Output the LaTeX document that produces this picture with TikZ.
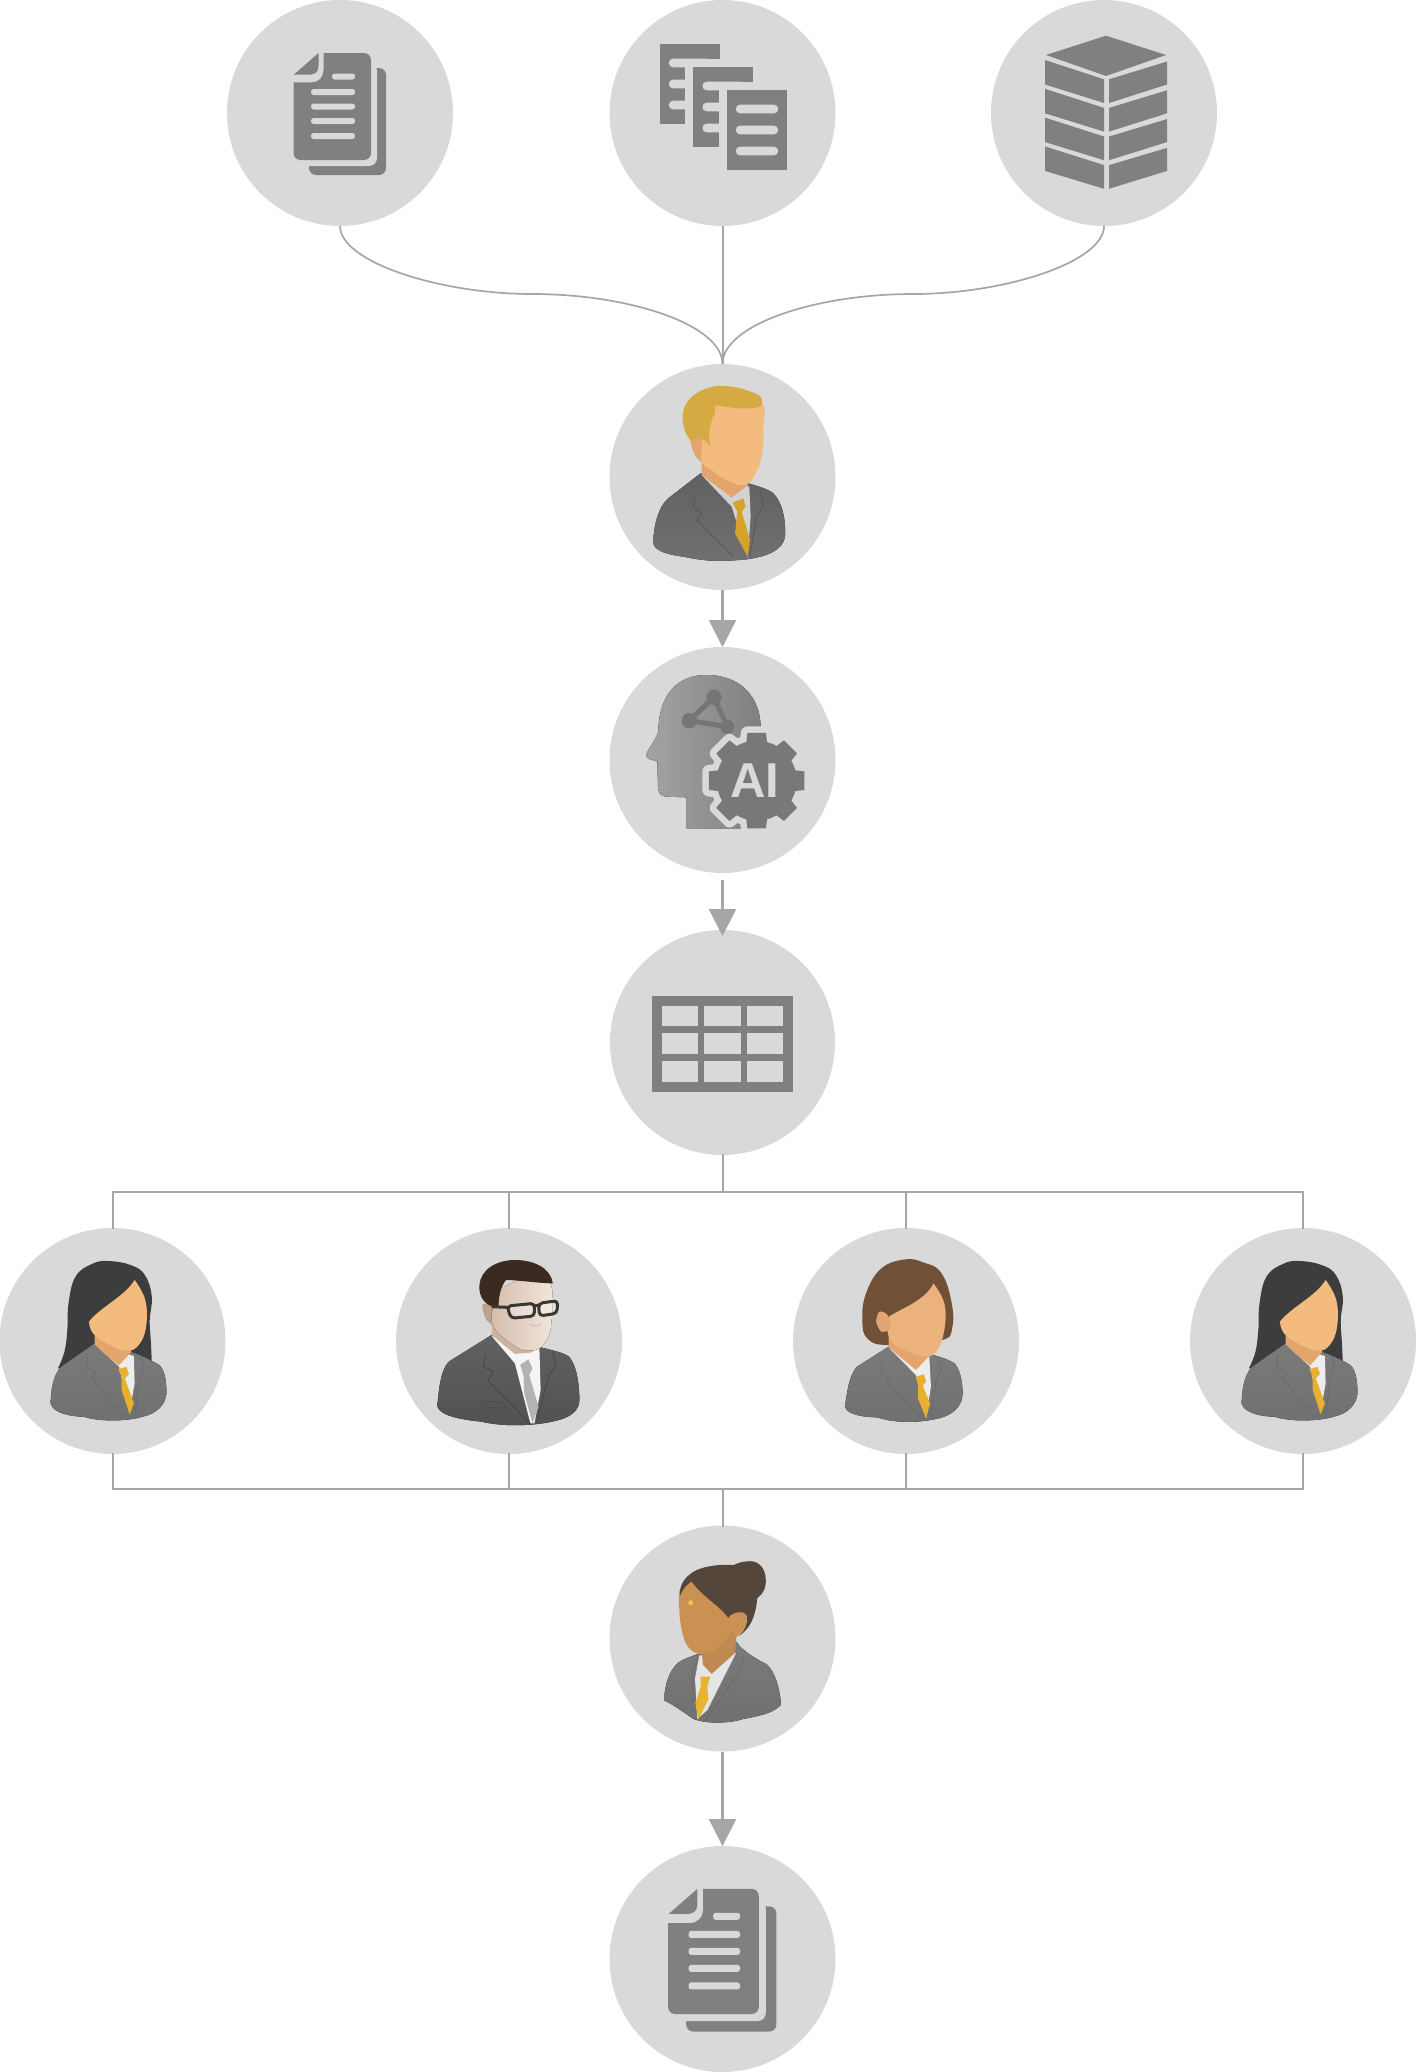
\documentclass[tikz,border=0pt]{standalone}
\usepackage{fontspec}
\setmainfont{Liberation Sans}
\usetikzlibrary{arrows.meta}
\definecolor{disc}{HTML}{D9D9D9}
\definecolor{iconc}{HTML}{808080}
\definecolor{linec}{HTML}{A6A6A6}
\definecolor{skinA}{HTML}{F3BC7E}
\definecolor{skinB}{HTML}{E3A56B}
\definecolor{tieA}{HTML}{E8B030}
\definecolor{rimc}{RGB}{58,55,50}
\tikzset{
  nd/.style={circle,fill=disc,draw=none,minimum size=226pt,inner sep=0pt,outer sep=0pt},
  thinline/.style={draw=linec,line width=1.7pt},
  flow/.style={draw=linec,line width=2.4pt,-{Triangle[length=27pt,width=27pt,fill=linec]}},
  bus/.style={draw=linec,line width=2pt,line cap=rect},
  iconf/.style={fill=iconc},
  lightf/.style={fill=disc},
  lapel/.style={draw=black!60,line width=.5pt,line join=round}
}
% document icon
\newcommand\docIcon[2]{\begin{scope}[shift={(#1.center)},scale=#2]
  \fill[iconf,rounded corners=7pt] (-31,-45) rectangle (46,62);
  \fill[lightf,rounded corners=8pt] (-46,-50) rectangle (37,53);
  \fill[iconf] (-16.5,-60) [rounded corners=7pt] -- (31,-60) -- (31,47) -- (-46.5,47) [sharp corners] -- (-46.5,-30.7) -- (-28,-30.7) .. controls (-21,-30.7) and (-16.5,-36) .. (-16.5,-43) -- cycle;
  \fill[iconf] (-46,-38.5) -- (-21.5,-60) -- (-21.5,-47) .. controls (-21.5,-41) and (-25,-38.5) .. (-30,-38.5) -- cycle;
  \fill[lightf,rounded corners=2.6pt] (-8,-39.5) rectangle (15,-33.5);
  \foreach \yy in {-21,-6.5,8,23} {\fill[lightf,rounded corners=2.6pt] (-29,\yy-3) rectangle (15,\yy+3);}
\end{scope}}
% one small text sheet
\newcommand\sheetIcon[2]{%
  \fill[iconf] (#1,#2) rectangle (#1+60,#2+80);
  \foreach \yy in {19,40,61} {\fill[lightf,rounded corners=4pt] (#1+9.4,#2+\yy-4.3) rectangle (#1+51.6,#2+\yy+4.3);}
}
% woman with long dark hair, in the coordinates of the zoomed crop
\newcommand\womanDark[1]{\begin{scope}[shift={(#1,1220)},x=.408pt,y=-.3333pt]
  \fill[fill=black!76] plot[smooth,tension=.7] coordinates {(142,445) (158,395) (165,330) (168,250) (185,170) (225,132) (265,123) (320,135) (355,165) (372,230) (367,300) (370,370) (372,425)} -- cycle;
  \fill[top color=black!52,bottom color=black!56] (232,370) -- (150,440) .. controls (130,465) and (125,510) .. (124,550) .. controls (130,580) and (175,590) .. (205,590) .. controls (240,605) and (310,605) .. (350,590) .. controls (385,580) and (405,555) .. (408,520) .. controls (408,490) and (405,450) .. (390,435) .. controls (370,420) and (345,405) .. (320,395) -- cycle;
  \fill[fill=white!93!black] (232,372) -- (292,440) -- (317,580) -- (330,490) -- (328,408) -- cycle;
  \fill[fill=skinB] (232,345) -- (232,372) -- (255,400) -- (292,436) -- (322,395) -- (315,370) -- cycle;
  \fill[fill=skinA] plot[smooth,tension=.7] coordinates {(330,180) (356,240) (358,320) (340,375) (310,392) (265,372) (228,340) (218,305)} .. controls (245,262) and (305,230) .. (330,180) -- cycle;
  \fill[fill=tieA] (290,447) -- (310,441) -- (316,462) -- (306,475) -- (328,550) -- (318,583) -- (298,510) -- (298,470) -- cycle;
  \draw[lapel] (213,400) -- (212,445) -- (235,455) -- (225,475) -- (300,590);
  \draw[lapel] (345,405) -- (352,440) -- (342,470) -- (330,590);
\end{scope}}
\begin{document}
\begin{tikzpicture}[x=1pt,y=-1pt]
\useasboundingbox (0,0) rectangle (1416,2072);
\fill[white] (0,0) rectangle (1416,2072);
% discs
\node[nd] (s1) at (340,113) {};
\node[nd] (s2) at (722.5,113) {};
\node[nd] (s3) at (1104,113) {};
\node[nd] (mgr) at (722.5,477) {};
\node[nd] (ai) at (722.5,760) {};
\node[nd,minimum size=225pt] (tbl) at (722.5,1042.5) {};
\node[nd] (r1) at (112.5,1341) {};
\node[nd] (r2) at (509,1341) {};
\node[nd] (r3) at (906,1341) {};
\node[nd] (r4) at (1303,1341) {};
\node[nd] (rev) at (722.5,1638.5) {};
\node[nd] (out) at (722.5,1959) {};
\coordinate (jl) at (532,294);
\coordinate (jr) at (913,294);
\coordinate (bt) at (722.5,1191.5);
\coordinate (bb) at (722.5,1489);
% connectors
\draw[thinline] (s1.south) .. controls (340,262) and (440,294) .. (jl) .. controls (630,294) and (722.5,325) .. (mgr.north);
\draw[thinline] (s3.south) .. controls (1104,262) and (1005,294) .. (jr) .. controls (815,294) and (722.5,325) .. (mgr.north);
\draw[bus,line cap=butt] (s2.south) -- (mgr.north);
\draw[flow] (mgr.south) -- (ai.north);
\draw[flow,shorten <=7pt,shorten >=-6pt] (ai.south) -- (tbl.north);
\draw[flow] (rev.south) -- (out.north);
\draw[bus] (tbl.south) -- (bt);
\draw[bus] (r1.north) |- (bt);
\draw[bus] (r4.north) |- (bt);
\draw[bus] (r2.north) |- (bt);
\draw[bus] (r3.north) |- (bt);
\draw[bus] (r1.south) |- (bb);
\draw[bus] (r4.south) |- (bb);
\draw[bus] (r2.south) |- (bb);
\draw[bus] (r3.south) |- (bb);
\draw[bus] (bb) -- (rev.north);
% document icons
\docIcon{s1}{1}
\docIcon{out}{1.17}
% three sheets
\begin{scope}[shift={(s2.center)}]
  \sheetIcon{-63}{-69}
  \fill[lightf] (-37.4,-54) rectangle (38.6,42);
  \sheetIcon{-29.4}{-46}
  \fill[lightf] (-4,-31) rectangle (72,65);
  \sheetIcon{4}{-23}
\end{scope}
% stack
\begin{scope}[shift={(s3.center)}]
  \fill[iconf] (2,-77.3) -- (62,-58) -- (2,-37) -- (-58,-58) -- cycle;
  \foreach \k in {0,1,2,3} {
    \fill[iconf] (-59,-53+28.8*\k) -- (0,-33.7+28.6*\k) -- (0,-10+28.6*\k) -- (-59,-28.5+28.8*\k) -- cycle;
    \fill[iconf] (63,-51.5+28.8*\k) -- (5,-33.7+28.6*\k) -- (5,-10+28.6*\k) -- (63,-28.5+28.8*\k) -- cycle;
  }
\end{scope}
% table
\fill[iconf] (651.7,995.7) rectangle (793.3,1092.3);
\foreach \cl/\cr in {661.7/697.7,704.3/740.7,747.3/783} {
  \foreach \rt/\rb in {1005.7/1026.3,1033.3/1054.3,1061.3/1082} {
    \fill[lightf] (\cl,\rt) rectangle (\cr,\rb);
  }
}
% manager
\begin{scope}[shift={(600,360)},x=.3333pt,y=-.3333pt]
  \fill[top color=black!62,bottom color=black!56] (302,340) -- (205,415) .. controls (175,440) and (160,500) .. (160,550) .. controls (165,575) and (210,585) .. (250,590) .. controls (300,600) and (340,608) .. (440,598) .. controls (500,590) and (550,570) .. (555,530) .. controls (558,490) and (550,430) .. (520,400) .. controls (500,385) and (470,378) .. (445,370) -- cycle;
  \fill[fill=disc!97!black] (305,345) -- (395,440) -- (443,590) -- (452,470) -- (448,380) -- cycle;
  \fill[fill=skinB] (305,290) -- (305,345) -- (395,412) -- (445,375) -- (440,330) -- cycle;
  \fill[fill=skinB] plot[smooth cycle] coordinates {(272,240) (305,225) (330,290) (305,305) (285,285)};
  \fill[fill=skinA] plot[smooth,tension=.7] coordinates {(330,130) (400,125) (486,128) (490,200) (488,270) (470,335) (435,375) (380,360) (335,330) (305,300) (310,220)} -- cycle;
  \fill[fill=tieA!92!black] (398,428) -- (430,415) -- (437,440) -- (425,455) -- (450,540) -- (443,590) -- (405,520) -- (412,455) -- cycle;
  \fill[fill={rgb,255:red,213;green,170;blue,66}] (332,262) .. controls (322,225) and (330,185) .. (345,160) -- (347,135) .. controls (395,145) and (450,150) .. (482,140) .. controls (492,125) and (485,108) .. (470,102) .. controls (430,85) and (390,75) .. (350,78) .. controls (295,85) and (250,120) .. (248,165) .. controls (247,200) and (258,230) .. (275,243) .. controls (295,225) and (320,240) .. (332,262) -- cycle;
  \draw[lapel,draw=black!70] (285,410) -- (280,440) -- (305,460) -- (290,480) -- (400,590);
  \draw[lapel,draw=black!70] (480,390) -- (490,440) -- (470,470) -- (450,590);
\end{scope}
% AI head and gear
\begin{scope}[shift={(640,660)},x=.3333pt,y=-.3333pt]
  \fill[left color=iconc!60!disc,right color=iconc] (140,505) -- (140,412) -- (78,410) .. controls (60,410) and (54,395) .. (54,380) -- (52,305) .. controls (40,300) and (22,298) .. (18,288) .. controls (18,275) and (45,245) .. (55,215) .. controls (55,120) and (100,45) .. (200,45) .. controls (300,45) and (360,110) .. (362,200) -- (362,505) -- cycle;
  \draw[black!54,line width=5pt] (222,112) -- (148,182) -- (262,200) -- cycle;
  \fill[black!54] (222,112) circle[radius=23];
  \fill[black!54] (148,182) circle[radius=23];
  \fill[black!54] (262,200) circle[radius=21];
  \begin{scope}[shift={(350,362)}]
    \draw[draw=disc,line width=13pt,line join=round,fill=disc] (-15:120) \foreach \a in {0,45,...,315} { -- (\a-15:120) -- (\a-11:146) -- (\a+11:146) -- (\a+15:120) arc[start angle=\a+15,end angle=\a+30,radius=120] } -- cycle;
    \fill[fill=iconc!94!black] (-15:120) \foreach \a in {0,45,...,315} { -- (\a-15:120) -- (\a-11:146) -- (\a+11:146) -- (\a+15:120) arc[start angle=\a+15,end angle=\a+30,radius=120] } -- cycle;
  \end{scope}
  \node[text=disc,font=\fontsize{49}{49}\selectfont\bfseries,inner sep=0pt] (aitxt) at (345,363) {AI};
\end{scope}
% reviewers
\womanDark{0}
\womanDark{1191}
% man with glasses
\begin{scope}[shift={(0,1220)},x=.408pt,y=-.3333pt]
  \fill[top color=black!62,bottom color=black!68] (1205,345) -- (1100,425) .. controls (1080,450) and (1075,510) .. (1072,560) .. controls (1080,590) and (1140,600) .. (1180,605) .. controls (1230,620) and (1310,620) .. (1370,600) .. controls (1400,590) and (1420,570) .. (1420,540) .. controls (1420,500) and (1415,440) .. (1395,410) .. controls (1375,395) and (1350,390) .. (1325,382) -- cycle;
  \fill[fill=white!96!black] (1205,348) -- (1262,430) -- (1300,610) -- (1310,610) -- (1325,510) -- (1322,385) -- cycle;
  \fill[fill={rgb,255:red,205;green,180;blue,162}] (1207,300) -- (1205,345) -- (1262,402) -- (1300,398) -- (1325,380) -- (1310,320) -- cycle;
  \fill[fill={rgb,255:red,190;green,163;blue,140}] plot[smooth cycle] coordinates {(1182,255) (1205,258) (1215,315) (1192,300)};
  \fill[left color={rgb,255:red,214;green,190;blue,172},right color={rgb,255:red,242;green,230;blue,220}] plot[smooth,tension=.7] coordinates {(1228,205) (1290,175) (1347,185) (1352,300) (1335,370) (1300,392) (1262,378) (1215,330) (1205,290) (1212,250)} -- cycle;
  \draw[black!25,line width=.8pt] (1297,312) .. controls (1305,320) and (1318,320) .. (1325,312);
  \fill[fill={rgb,255:red,178;green,178;blue,178}] (1275,435) -- (1295,418) -- (1305,445) -- (1297,465) -- (1320,560) -- (1305,610) -- (1285,520) -- (1283,465) -- cycle;
  \fill[fill={rgb,255:red,58;green,42;blue,34}] (1222,262) .. controls (1190,262) and (1172,230) .. (1175,195) .. controls (1178,150) and (1215,120) .. (1262,120) .. controls (1310,120) and (1350,145) .. (1355,190) .. controls (1320,190) and (1270,180) .. (1240,180) .. controls (1225,205) and (1222,235) .. (1222,262) -- cycle;
  \draw[fill=white,fill opacity=.25,draw=rimc,line width=3pt,rounded corners=4pt] (1243,258) -- (1310,250) -- (1310,288) -- (1252,295) -- cycle;
  \draw[fill=white,fill opacity=.25,draw=rimc,line width=3pt,rounded corners=4pt] (1320,250) -- (1367,242) -- (1365,280) -- (1322,288) -- cycle;
  \draw[draw=rimc,line width=3pt] (1205,260) -- (1243,262) (1310,258) -- (1320,255);
  \draw[lapel,draw=black!76] (1190,405) -- (1185,440) -- (1210,455) -- (1195,480) -- (1300,612);
  \draw[lapel,draw=black!76] (1355,395) -- (1362,440) -- (1345,465) -- (1315,610);
  \draw[lapel,draw=black!72] (1180,542) -- (1230,548) -- (1240,565) -- (1185,560) -- cycle;
\end{scope}
% woman with brown hair
\begin{scope}[shift={(780,1220)},x=.4057pt,y=-.3333pt]
  \fill[fill={rgb,255:red,112;green,80;blue,54}] plot[smooth cycle,tension=.7] coordinates {(310,118) (250,145) (212,220) (203,300) (215,355) (265,375) (395,362) (425,320) (420,230) (395,155) (355,128)};
  \fill[top color=black!52,bottom color=black!56] (268,380) -- (190,440) .. controls (170,465) and (165,520) .. (160,560) .. controls (165,585) and (210,592) .. (240,592) .. controls (280,610) and (350,610) .. (400,592) .. controls (430,580) and (450,555) .. (450,520) .. controls (450,490) and (445,450) .. (430,430) .. controls (410,415) and (390,410) .. (370,402) -- cycle;
  \fill[fill=white!93!black] (270,385) -- (335,465) -- (360,595) -- (372,500) -- (368,410) -- cycle;
  \fill[fill=skinB] (268,350) -- (268,382) -- (335,450) -- (372,403) -- (360,380) -- cycle;
  \fill[fill={rgb,255:red,236;green,178;blue,125}] plot[smooth,tension=.7] coordinates {(378,190) (405,250) (405,330) (385,395) (350,408) (285,375) (265,335) (268,290)} .. controls (300,265) and (360,240) .. (378,190) -- cycle;
  \fill[fill={rgb,255:red,225;green,165;blue,115}] plot[smooth cycle] coordinates {(245,275) (265,285) (272,325) (250,335) (237,305)};
  \fill[fill=tieA] (335,470) -- (355,463) -- (360,485) -- (352,497) -- (370,550) -- (360,595) -- (340,535) -- (340,495) -- cycle;
  \draw[lapel] (252,420) -- (250,460) -- (275,475) -- (262,490) -- (345,592);
  \draw[lapel] (388,415) -- (397,450) -- (385,480) -- (372,590);
\end{scope}
% review lead
\begin{scope}[shift={(610,1520)},x=.3333pt,y=-.352pt]
  \fill[top color=black!52,bottom color=black!56] (378,345) .. controls (400,375) and (440,395) .. (470,410) .. controls (495,430) and (510,480) .. (513,525) .. controls (490,550) and (440,558) .. (400,565) .. controls (360,578) and (290,580) .. (250,565) .. controls (220,545) and (190,525) .. (162,512) .. controls (165,470) and (175,430) .. (205,405) .. controls (225,392) and (245,388) .. (265,380) -- cycle;
  \fill[fill=white!90!black] (268,385) -- (255,450) -- (262,565) -- (292,540) -- (378,378) -- cycle;
  \fill[fill={rgb,255:red,190;green,138;blue,82}] (275,360) -- (278,410) -- (305,437) -- (375,378) -- (380,320) -- (330,300) -- cycle;
  \fill[fill={rgb,255:red,201;green,145;blue,82}] plot[smooth cycle,tension=.6] coordinates {(222,180) (208,255) (225,345) (265,380) (320,365) (365,315) (395,250) (340,160)};
  \fill[fill={rgb,255:red,84;green,70;blue,58}] (420,117) .. controls (395,117) and (375,125) .. (372,128) .. controls (330,125) and (265,130) .. (235,158) .. controls (215,175) and (208,195) .. (210,215) .. controls (220,195) and (232,180) .. (245,175) .. controls (280,220) and (325,240) .. (355,278) .. controls (365,262) and (395,255) .. (410,272) .. controls (415,295) and (400,325) .. (375,335) .. controls (410,320) and (435,290) .. (442,222) .. controls (460,210) and (470,190) .. (467,165) .. controls (465,135) and (445,117) .. (420,117) -- cycle;
  \fill[fill={rgb,255:red,201;green,145;blue,82}] plot[smooth cycle] coordinates {(362,285) (392,262) (410,272) (405,305) (378,330)};
  \fill[fill={rgb,255:red,250;green,200;blue,60}] (242,235) circle[radius=7];
  \fill[fill={rgb,255:red,230;green,180;blue,46}] (272,445) -- (300,445) -- (292,475) -- (295,510) -- (265,567) -- (256,520) -- (272,475) -- cycle;
  \draw[lapel] (400,385) -- (395,420) -- (360,470) -- (285,570);
  \draw[lapel] (262,395) -- (248,430) -- (250,520);
\end{scope}
\end{tikzpicture}
\end{document}
